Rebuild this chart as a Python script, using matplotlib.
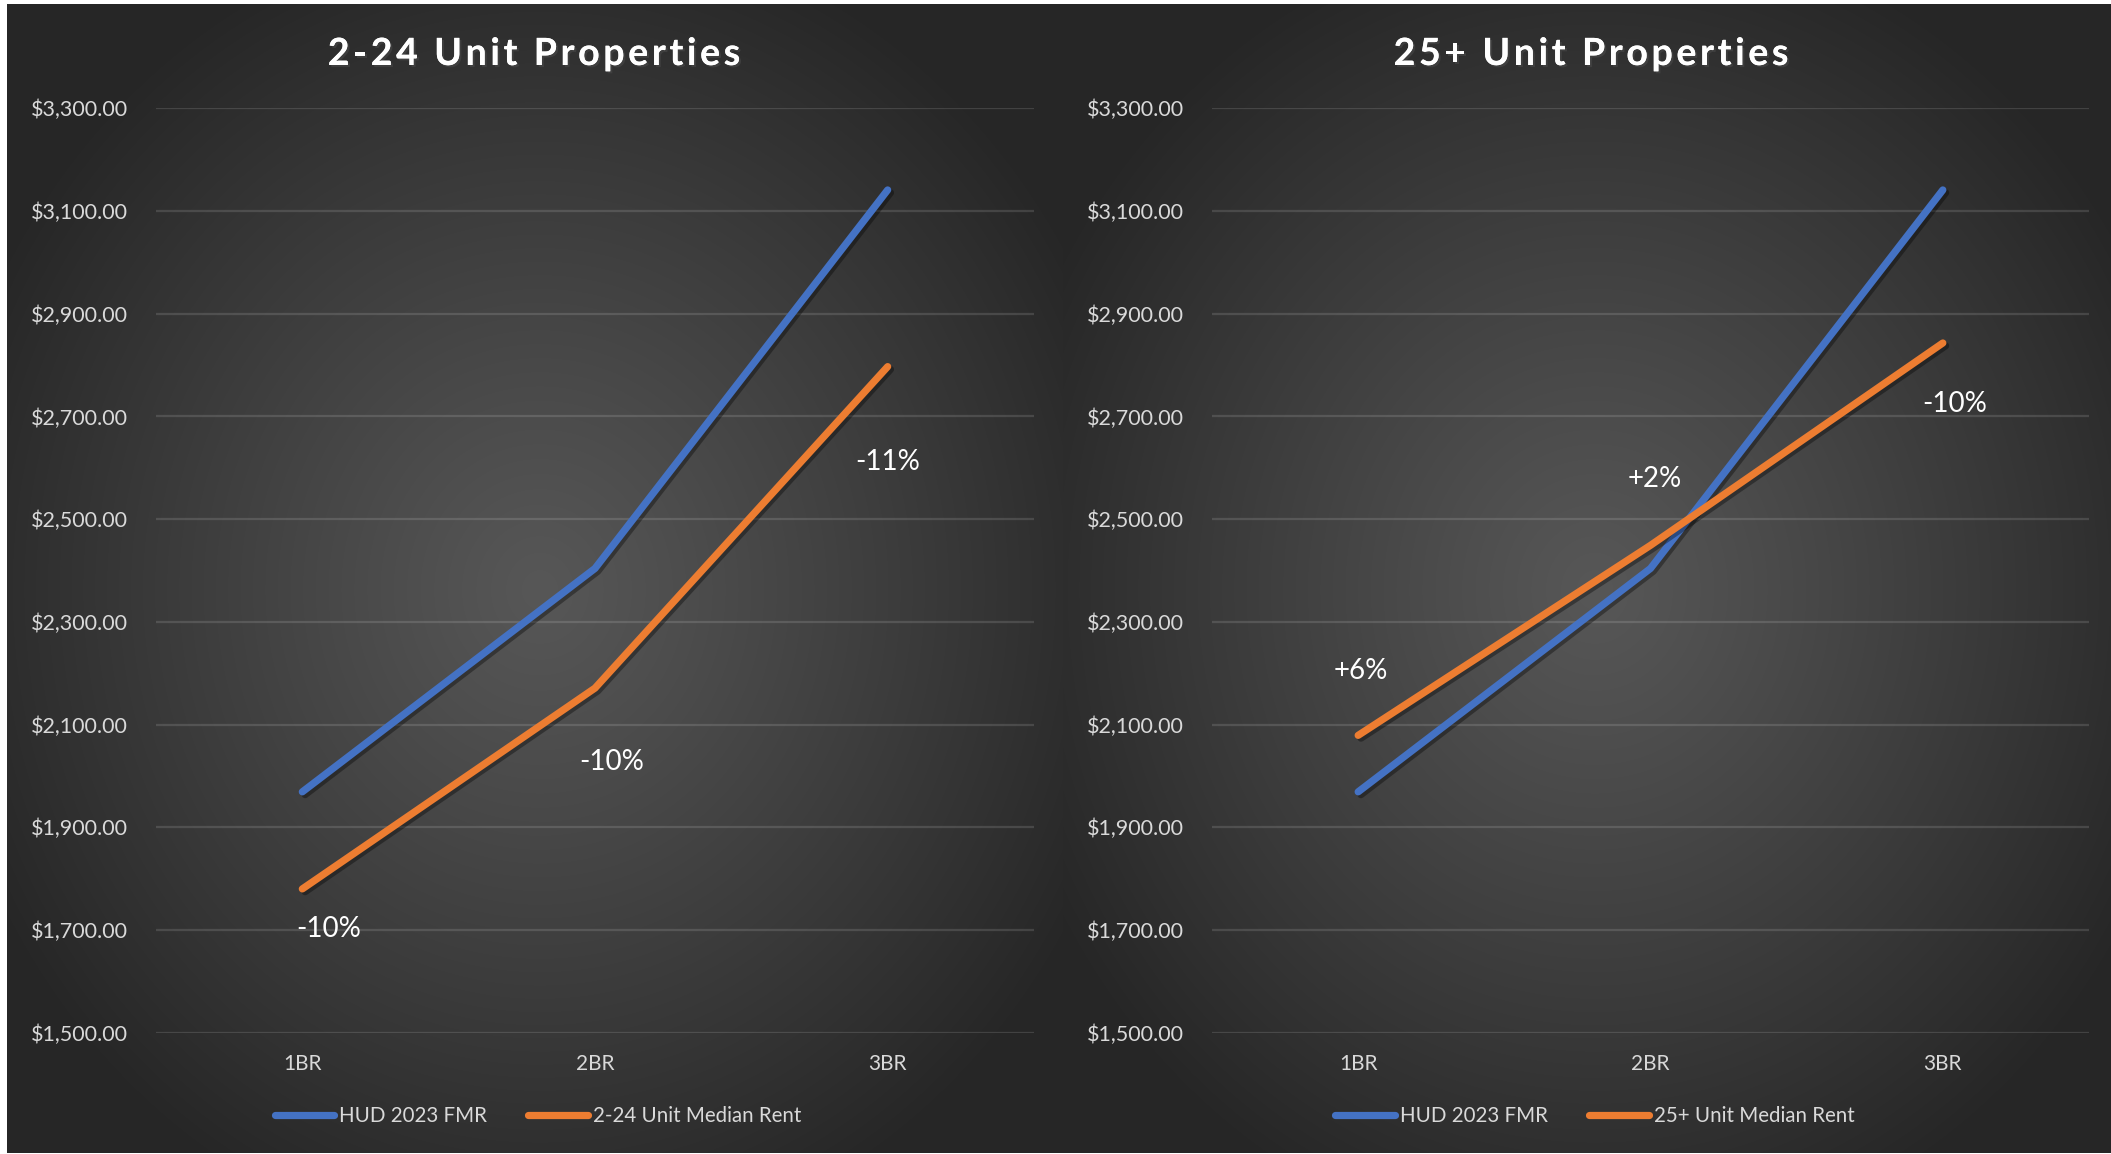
import numpy as np
import matplotlib
matplotlib.use("Agg")
import matplotlib.pyplot as plt
import matplotlib.patheffects as pe
from matplotlib.lines import Line2D
from matplotlib.ticker import FuncFormatter
from matplotlib.font_manager import FontProperties
from matplotlib.textpath import TextToPath

# ---------------- data ----------------
categories = ["1BR", "2BR", "3BR"]
hud_fmr = [1969, 2404, 3141]
median_2_24 = [1780, 2171, 2797]
median_25 = [2079, 2449, 2843]
labels_2_24 = ["-10%", "-10%", "-11%"]
labels_25 = ["+6%", "+2%", "-10%"]
titles = ["2-24 Unit Properties", "25+ Unit Properties"]
legend_fmr = "HUD 2023 FMR"
legend_series = ["2-24 Unit Median Rent", "25+ Unit Median Rent"]
y_ticks = list(range(1500, 3301, 200))

# ---------------- layout / style ----------------
W, H = 2111, 1154
BLUE = "#4472C4"
ORANGE = "#ED7D31"
FONT = ["Lato", "DejaVu Sans"]
plt.rcParams["font.family"] = FONT

fig = plt.figure(figsize=(W / 100, H / 100), dpi=100, facecolor="white")

def fx(px):
    return px / W

def fy(py):  # py measured from top
    return 1 - py / H

# background gradient (two panels)
bx0, bx1, by0, by1 = 7, 2111, 4, 1153
xs = np.arange(bx0, bx1) + 0.5
ys = np.arange(by0, by1) + 0.5
X, Y = np.meshgrid(xs, ys)
CX = np.where(X < 1063, 540, 1595)
CY = 590
d = np.sqrt(((X - CX) / 620.0) ** 2 + ((Y - CY) / 680.0) ** 2)
t = np.clip(d, 0, 1) ** 1.1
c_center, c_edge = 0x57 / 255, 0x26 / 255
G = c_center + (c_edge - c_center) * t
img = np.dstack([G, G, G])
ax_bg = fig.add_axes([fx(bx0), fy(by1), fx(bx1 - bx0), (by1 - by0) / H])
ax_bg.imshow(img, aspect="auto", interpolation="bilinear")
ax_bg.axis("off")

panels = [
    dict(ax_left=156, ax_right=1034, center=534, legend_center=538,
         series=median_2_24, labels=labels_2_24, title=titles[0], leg=legend_series[0],
         offsets=[(26, -40), (17, -74), (0, -95)]),
    dict(ax_left=1212, ax_right=2089, center=1591, legend_center=1595,
         series=median_25, labels=labels_25, title=titles[1], leg=legend_series[1],
         offsets=[(3, 64), (4, 66), (12, -61)]),
]

ax_top, ax_bot = 108.3, 1032.7
x = np.arange(len(categories))

shadow = [pe.SimpleLineShadow(offset=(2, -2), alpha=0.35, shadow_color="black"), pe.Normal()]

# spaced title helper
TITLE_SIZE_PT = 27
title_prop = FontProperties(family=FONT, weight="bold", size=TITLE_SIZE_PT)
t2p = TextToPath()
SPACING_PX = 3.6

def text_w_px(s):
    # width in pixels (dpi 100; size in points -> pixels factor 100/72)
    w, _, _ = t2p.get_text_width_height_descent(s + "x", title_prop, ismath=False)
    wx, _, _ = t2p.get_text_width_height_descent("x", title_prop, ismath=False)
    return (w - wx) * 100 / 72

def spaced_title(s, center_px, baseline_px):
    offsets = [text_w_px(s[:i]) + i * SPACING_PX for i in range(len(s))]
    total = text_w_px(s) + (len(s) - 1) * SPACING_PX
    start = center_px - total / 2
    for ch, o in zip(s, offsets):
        if ch == " ":
            continue
        fig.text(fx(start + o), fy(baseline_px), ch, ha="left", va="baseline",
                 fontproperties=title_prop, color="white",
                 path_effects=[pe.withSimplePatchShadow(offset=(1.5, -1.5), alpha=0.5),
                               pe.Normal()])

for p in panels:
    ax = fig.add_axes([fx(p["ax_left"]), fy(ax_bot), fx(p["ax_right"] - p["ax_left"]),
                       (ax_bot - ax_top) / H])
    ax.set_facecolor("none")
    for s in ax.spines.values():
        s.set_visible(False)
    ax.set_ylim(1500, 3300)
    ax.set_xlim(-0.5, len(categories) - 0.5)
    ax.set_yticks(y_ticks)
    ax.yaxis.set_major_formatter(FuncFormatter(lambda v, pos: f"${v:,.2f}"))
    ax.set_xticks(x)
    ax.set_xticklabels(categories)
    ax.tick_params(axis="y", length=0, pad=20, labelsize=15.5, labelcolor="#d9d9d9")
    ax.tick_params(axis="x", length=0, pad=15, labelsize=15, labelcolor="#d9d9d9")
    ax.yaxis.grid(True, color="white", alpha=0.13, lw=1.6)
    ax.set_axisbelow(True)

    ax.plot(x, hud_fmr, color=BLUE, lw=5.2, solid_capstyle="round",
            solid_joinstyle="round", path_effects=shadow, zorder=3)
    ax.plot(x, p["series"], color=ORANGE, lw=5.2, solid_capstyle="round",
            solid_joinstyle="round", path_effects=shadow, zorder=4)

    for i, (lab, off) in enumerate(zip(p["labels"], p["offsets"])):
        ax.annotate(lab, xy=(x[i], p["series"][i]), xytext=off,
                    textcoords="offset pixels", ha="center", va="center",
                    fontsize=20, color="white", zorder=5)

    spaced_title(p["title"], p["center"], 65)

    handles = [Line2D([], [], color=BLUE, lw=5.2, solid_capstyle="round"),
               Line2D([], [], color=ORANGE, lw=5.2, solid_capstyle="round")]
    fig.legend(handles, [legend_fmr, p["leg"]], loc="center",
               bbox_to_anchor=(fx(p["legend_center"]), fy(1116)), ncol=2,
               frameon=False, fontsize=14.8, labelcolor="#d9d9d9",
               handlelength=2.9, handletextpad=0.25, columnspacing=2.0)

fig.savefig("out.png", dpi=100, facecolor="white")
